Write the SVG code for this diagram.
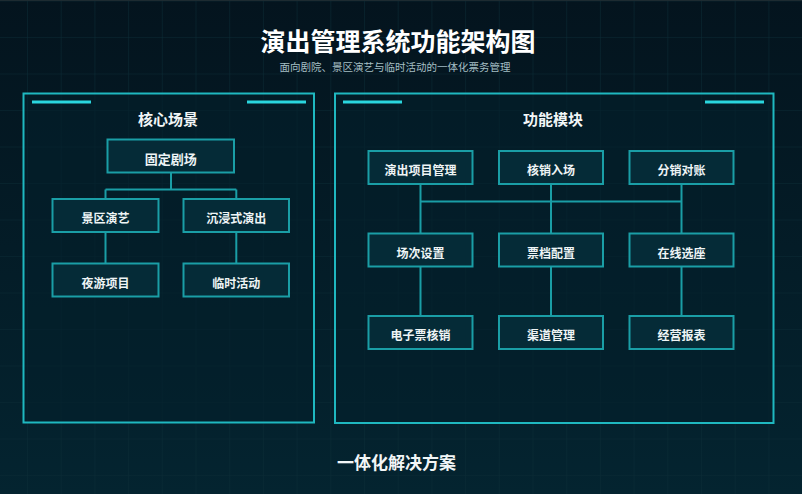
<svg xmlns="http://www.w3.org/2000/svg" width="802" height="494" viewBox="0 0 802 494">
  <defs>
    <linearGradient id="bg" x1="0" y1="0" x2="0" y2="1">
      <stop offset="0" stop-color="#04141e"/>
      <stop offset="1" stop-color="#042430"/>
    </linearGradient>
    <pattern id="grid" patternUnits="userSpaceOnUse" x="27" y="37" width="33.7" height="36.5">
      <path d="M0 0 V36.5 M0 0 H33.7" fill="none" stroke="#0b2c36" stroke-width="1"/>
    </pattern>
    <style>
      .panel { fill: #03202b; fill-opacity: 0.6; stroke: #1fb8c0; stroke-width: 2; }
      .accent { stroke: #2ad6de; stroke-width: 3; }
      .node rect { fill: #052b37; stroke: #1a9ea6; stroke-width: 2; }
      .node text { fill: #eef4f5; font-family: "Noto Sans CJK SC", "Noto Sans", sans-serif; font-size: 12px; font-weight: bold; text-anchor: middle; dominant-baseline: central; }
      .conn { fill: none; stroke: #1a9ea6; stroke-width: 2; }
      .ptitle { fill: #f2f6f7; font-family: "Noto Sans CJK SC", "Noto Sans", sans-serif; font-size: 15px; font-weight: bold; text-anchor: middle; dominant-baseline: central; }
      .title { fill: #ffffff; font-family: "Noto Sans CJK SC", "Noto Sans", sans-serif; font-size: 25px; font-weight: bold; text-anchor: middle; dominant-baseline: central; }
      .sub { fill: #a4bfc4; font-family: "Noto Sans CJK SC", "Noto Sans", sans-serif; font-size: 10.5px; text-anchor: middle; dominant-baseline: central; }
      .foot { fill: #f2f6f7; font-family: "Noto Sans CJK SC", "Noto Sans", sans-serif; font-size: 17px; font-weight: bold; text-anchor: middle; dominant-baseline: central; }
    </style>
  </defs>

  <rect width="802" height="494" fill="url(#bg)"/>
  <rect width="802" height="494" fill="url(#grid)"/>
  <line x1="0" y1="0.5" x2="802" y2="0.5" stroke="#1d2b31" stroke-width="1"/>

  <g id="header">
    <text class="title" x="398" y="39.5">演出管理系统功能架构图</text>
    <text class="sub" x="395" y="66">面向剧院、景区演艺与临时活动的一体化票务管理</text>
  </g>

  <g id="panel-left">
    <rect class="panel" x="23.5" y="93.5" width="290.5" height="329"/>
    <line class="accent" x1="32" y1="102" x2="91" y2="102"/>
    <line class="accent" x1="247" y1="102" x2="306" y2="102"/>
    <text class="ptitle" x="168" y="118.5">核心场景</text>
  </g>

  <g id="panel-right">
    <rect class="panel" x="335" y="93.5" width="438.5" height="329.5"/>
    <line class="accent" x1="343" y1="102" x2="402" y2="102"/>
    <line class="accent" x1="705" y1="102" x2="764" y2="102"/>
    <text class="ptitle" x="553" y="118">功能模块</text>
  </g>

  <g id="connectors">
    <path class="conn" d="M171 172.5 V189.5 M105.5 189.5 H236.3 M105.5 189.5 V199 M236.3 189.5 V199 M105.5 232 V263.5 M236.3 232 V263.5"/>
    <path class="conn" d="M420.5 184 V233.5 M551 184 V233.5 M681.5 184 V233.5 M420.5 201.5 H681.5 M420.5 266.5 V316 M551 266.5 V316 M681.5 266.5 V316"/>
  </g>

  <g id="n-gudingjuchang" class="node">
    <rect x="107.5" y="139.5" width="126.5" height="33"/>
    <text x="170.8" y="158" style="font-size:13px">固定剧场</text>
  </g>
  <g id="n-jingquyanyi" class="node">
    <rect x="52.5" y="199" width="106" height="33"/>
    <text x="105.5" y="217.5">景区演艺</text>
  </g>
  <g id="n-chenjinshi" class="node">
    <rect x="183.5" y="199" width="105.5" height="33"/>
    <text x="236.3" y="217.5">沉浸式演出</text>
  </g>
  <g id="n-yeyou" class="node">
    <rect x="52.5" y="263.5" width="106" height="33"/>
    <text x="105.5" y="282">夜游项目</text>
  </g>
  <g id="n-linshi" class="node">
    <rect x="183.5" y="263.5" width="105.5" height="33"/>
    <text x="236.3" y="282">临时活动</text>
  </g>

  <g id="n-xiangmu" class="node">
    <rect x="368.5" y="151" width="104" height="33"/>
    <text x="420.5" y="169.8">演出项目管理</text>
  </g>
  <g id="n-hexiao" class="node">
    <rect x="499" y="151" width="104" height="33"/>
    <text x="551" y="169.8">核销入场</text>
  </g>
  <g id="n-fenxiao" class="node">
    <rect x="629.5" y="151" width="104" height="33"/>
    <text x="681.5" y="169.8">分销对账</text>
  </g>
  <g id="n-changci" class="node">
    <rect x="368.5" y="233.5" width="104" height="33"/>
    <text x="420.5" y="252.3">场次设置</text>
  </g>
  <g id="n-piaodang" class="node">
    <rect x="499" y="233.5" width="104" height="33"/>
    <text x="551" y="252.3">票档配置</text>
  </g>
  <g id="n-xuanzuo" class="node">
    <rect x="629.5" y="233.5" width="104" height="33"/>
    <text x="681.5" y="252.3">在线选座</text>
  </g>
  <g id="n-dianzipiao" class="node">
    <rect x="368.5" y="316" width="104" height="33"/>
    <text x="420.5" y="334.8">电子票核销</text>
  </g>
  <g id="n-qudao" class="node">
    <rect x="499" y="316" width="104" height="33"/>
    <text x="551" y="334.8">渠道管理</text>
  </g>
  <g id="n-baobiao" class="node">
    <rect x="629.5" y="316" width="104" height="33"/>
    <text x="681.5" y="334.8">经营报表</text>
  </g>

  <g id="footer">
    <text class="foot" x="396.5" y="461.5">一体化解决方案</text>
  </g>
</svg>
